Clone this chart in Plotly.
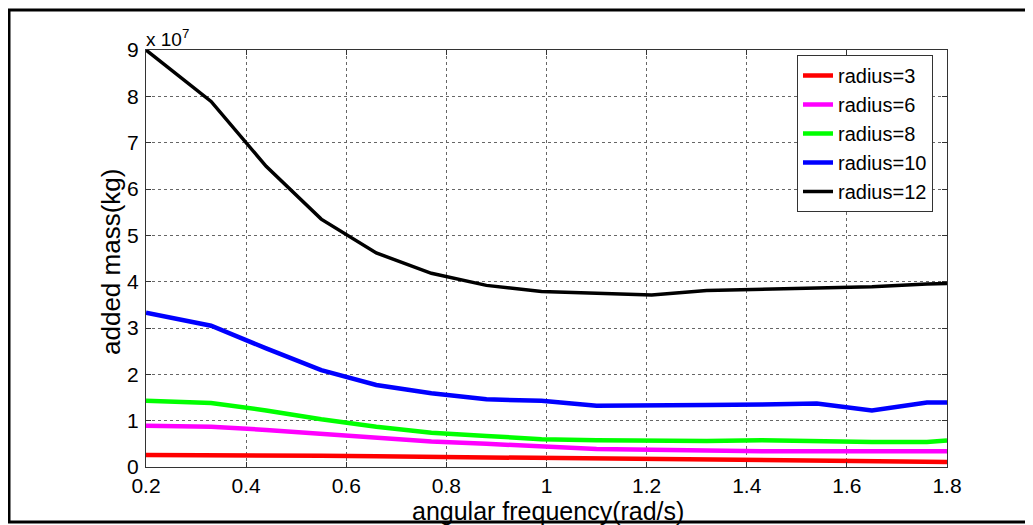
import plotly.graph_objects as go

# angular frequency (rad/s)
freq = [0.2, 0.33, 0.44, 0.55, 0.66, 0.77, 0.88, 0.99, 1.10, 1.21, 1.32, 1.43, 1.54, 1.65, 1.76, 1.8]

# added mass, in units of 1e7 kg
r3 = [0.26, 0.26, 0.26, 0.245, 0.23, 0.22, 0.21, 0.19, 0.19, 0.17, 0.16, 0.16, 0.13, 0.13, 0.11, 0.11]
r6 = [0.89, 0.87, 0.80, 0.71, 0.63, 0.55, 0.50, 0.45, 0.39, 0.37, 0.35, 0.34, 0.34, 0.34, 0.34, 0.34]
r8 = [1.43, 1.38, 1.22, 1.03, 0.87, 0.74, 0.67, 0.60, 0.58, 0.56, 0.56, 0.58, 0.555, 0.54, 0.54, 0.57]
r10 = [3.33, 3.05, 2.56, 2.09, 1.77, 1.59, 1.46, 1.43, 1.32, 1.32, 1.34, 1.35, 1.37, 1.22, 1.39, 1.39]
r12 = [9.0, 7.89, 6.49, 5.35, 4.62, 4.18, 3.92, 3.79, 3.75, 3.71, 3.81, 3.84, 3.87, 3.89, 3.95, 3.96]

series_names = ["radius=3", "radius=6", "radius=8", "radius=10", "radius=12"]
series_vals = [r3, r6, r8, r10, r12]
colors = ["#ff0000", "#ff00ff", "#00ff00", "#0000ff", "#000000"]

x_ticks = [0.2, 0.4, 0.6, 0.8, 1.0, 1.2, 1.4, 1.6, 1.8]
x_ticktext = ["0.2", "0.4", "0.6", "0.8", "1", "1.2", "1.4", "1.6", "1.8"]
y_ticks = [0, 1, 2, 3, 4, 5, 6, 7, 8, 9]

FONT = "Liberation Sans, Arial, sans-serif"

fig = go.Figure()
for name, vals, c in zip(series_names, series_vals, colors):
    fig.add_trace(go.Scatter(x=freq, y=vals, mode="lines", name=name,
                             line=dict(color=c, width=4.5 if c != "#000000" else 3.5)))

# page body has an 8px margin; work in reference pixels and shift
OFF = 8
W, H = 1033 - OFF, 525 - OFF
L, R, T, B = 146 - OFF, 947 - OFF, 50 - OFF, 467 - OFF
pw, ph = R - L, B - T

def px(x):
    return (x - OFF - L) / pw

def py(y):
    return (B - (y - OFF)) / ph

axis_common = dict(
    showline=True, linecolor="#333333", linewidth=1, mirror="ticks",
    ticks="inside", ticklen=5, tickcolor="#333333",
    showgrid=True, gridcolor="#666666", gridwidth=1, griddash="dot",
    zeroline=False, automargin=False,
    tickfont=dict(family=FONT, size=21, color="#000000"),
)

fig.update_layout(
    width=W, height=H,
    margin=dict(l=L, r=W - R, t=T, b=H - B, pad=0, autoexpand=False),
    paper_bgcolor="white", plot_bgcolor="white",
    font=dict(family=FONT, color="#000000"),
    xaxis=dict(range=[0.2, 1.8], tickvals=x_ticks, ticktext=x_ticktext, **axis_common),
    yaxis=dict(range=[0, 9], tickvals=y_ticks, ticklabelstandoff=2, **axis_common),
    legend=dict(x=px(797), y=py(55), xanchor="left", yanchor="top",
                bgcolor="white", bordercolor="#333333", borderwidth=1,
                font=dict(family=FONT, size=20, color="#000000"),
                tracegroupgap=0, itemwidth=30),
    showlegend=True,
)

# axis titles
fig.add_annotation(text="angular frequency(rad/s)", xref="paper", yref="paper",
                   x=px(548), y=py(511), xanchor="center", yanchor="middle",
                   showarrow=False, font=dict(family=FONT, size=25, color="#000000"))
fig.add_annotation(text="added mass(kg)", xref="paper", yref="paper",
                   x=px(111), y=py(262), xanchor="center", yanchor="middle", textangle=-90,
                   showarrow=False, font=dict(family=FONT, size=26, color="#000000"))

fig.add_annotation(text="x 10<sup>7</sup>", xref="paper", yref="paper",
                   x=px(144), y=py(38), xanchor="left", yanchor="middle",
                   showarrow=False, font=dict(family=FONT, size=19, color="#000000"))

fig.add_shape(type="rect", xref="paper", yref="paper",
              x0=px(9), x1=px(1030), y0=py(522), y1=py(10),
              line=dict(color="black", width=3), fillcolor="rgba(0,0,0,0)", layer="above")

fig.write_html("out.html")
